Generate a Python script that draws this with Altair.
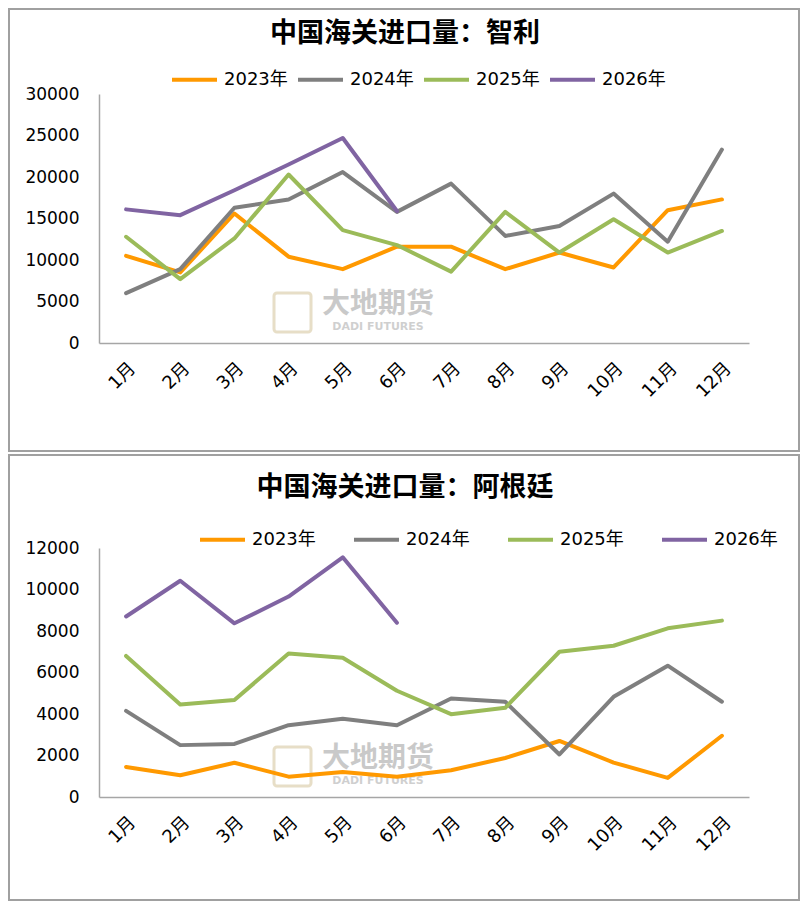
import altair as alt
import pandas as pd

months = ["1月", "2月", "3月", "4月", "5月", "6月",
          "7月", "8月", "9月", "10月", "11月", "12月"]
years = ["2023年", "2024年", "2025年", "2026年"]
colors = ["#FF9900", "#7F7F7F", "#9BBB59", "#8064A2"]

# 智利
chile_2023 = [10500, 8500, 15600, 10400, 8900, 11600, 11600, 8900, 10900, 9100, 16000, 17300]
chile_2024 = [6000, 8900, 16300, 17300, 20600, 15800, 19200, 12900, 14100, 18000, 12200, 23300]
chile_2025 = [12800, 7700, 12600, 20300, 13600, 11800, 8600, 15800, 10900, 14900, 10900, 13500]
chile_2026 = [16100, 15400, 18400, 21500, 24700, 15900]
chile_ticks = [0, 5000, 10000, 15000, 20000, 25000, 30000]

# 阿根廷
argentina_2023 = [1450, 1050, 1650, 980, 1200, 980, 1290, 1880, 2700, 1660, 920, 2950]
argentina_2024 = [4150, 2500, 2560, 3460, 3770, 3460, 4750, 4590, 2050, 4830, 6330, 4590]
argentina_2025 = [6800, 4460, 4670, 6920, 6710, 5120, 3990, 4300, 7000, 7290, 8130, 8500]
argentina_2026 = [8700, 10420, 8370, 9660, 11550, 8400]
argentina_ticks = [0, 2000, 4000, 6000, 8000, 10000, 12000]

LABEL_FONT = "DejaVu Sans, Noto Sans CJK SC"
CJK_FONT = "Noto Sans CJK SC"


def to_long(series):
    rows = []
    for year, values in zip(years, series):
        for month, v in zip(months, values):
            rows.append({"month": month, "year": year, "value": v})
    return pd.DataFrame(rows)


def panel(df, title, ticks, frame_top, frame_bottom, legend_x, legend_y, col_pad):
    one = pd.DataFrame({"k": [0]})

    frame = alt.Chart(one).mark_rect(
        fill="transparent", stroke="#A0A0A0", strokeWidth=2
    ).encode(x=alt.value(-90), x2=alt.value(700),
             y=alt.value(frame_top), y2=alt.value(frame_bottom))

    # watermark
    logo = alt.Chart(one).mark_rect(
        fill="transparent", stroke="#D8C9A3", strokeWidth=3, opacity=0.6,
        cornerRadius=3
    ).encode(x=alt.value(175), x2=alt.value(212),
             y=alt.value(199), y2=alt.value(238))
    wm_cn = alt.Chart(one).mark_text(
        text="大地期货", font=CJK_FONT, fontSize=28, fontWeight="bold",
        color="#8A8A8A", opacity=0.45, align="center", baseline="middle"
    ).encode(x=alt.value(279), y=alt.value(211))
    wm_en = alt.Chart(one).mark_text(
        text="DADI FUTURES", font="DejaVu Sans", fontSize=11, fontWeight="bold",
        color="#8A8A8A", opacity=0.4, align="center", baseline="middle"
    ).encode(x=alt.value(279), y=alt.value(233))

    lines = alt.Chart(df).mark_line(
        strokeWidth=4, strokeCap="round", strokeJoin="round"
    ).encode(
        x=alt.X("month:O", sort=months,
                axis=alt.Axis(title=None, labelAngle=-45, labelAlign="right",
                              labelFontSize=18, labelFont=LABEL_FONT,
                              labelColor="black", labelPadding=16, ticks=False,
                              domainColor="#A6A6A6", domainWidth=1.5)),
        y=alt.Y("value:Q",
                scale=alt.Scale(domain=[ticks[0], ticks[-1]], nice=False),
                axis=alt.Axis(title=None, values=ticks, format="d", grid=False,
                              ticks=False, labelFontSize=17, labelFont=LABEL_FONT,
                              labelColor="black", labelPadding=20,
                              domainColor="#A6A6A6", domainWidth=1.5)),
        color=alt.Color("year:N", sort=years,
                        scale=alt.Scale(domain=years, range=colors),
                        legend=alt.Legend(title=None, orient="none",
                                          legendX=legend_x, legendY=legend_y,
                                          direction="horizontal", columns=4,
                                          symbolType="stroke", symbolSize=2025,
                                          symbolStrokeWidth=4, labelFontSize=18,
                                          labelFont=LABEL_FONT, labelColor="black",
                                          labelOffset=5, columnPadding=col_pad,
                                          padding=0)),
    )

    head = alt.Chart(one).mark_text(
        text=title, font=CJK_FONT, fontSize=27, fontWeight="bold",
        color="black", align="center", baseline="middle"
    ).encode(x=alt.value(306), y=alt.value(-60))

    return alt.layer(frame, logo, wm_cn, wm_en, lines, head).properties(
        width=650, height=249)


chile = to_long([chile_2023, chile_2024, chile_2025, chile_2026])
argentina = to_long([argentina_2023, argentina_2024, argentina_2025, argentina_2026])

top = panel(chile, "中国海关进口量：智利", chile_ticks, -85, 357, 71, -39, 2)
bottom = panel(argentina, "中国海关进口量：阿根廷", argentina_ticks, -93, 352, 99, -33, 30)

chart = alt.vconcat(top, bottom, spacing=2).resolve_legend(
    color="independent"
).properties(
    padding=0
).configure_view(strokeWidth=0)

chart.save("out.html", embed_options={"renderer": "svg", "actions": False})
